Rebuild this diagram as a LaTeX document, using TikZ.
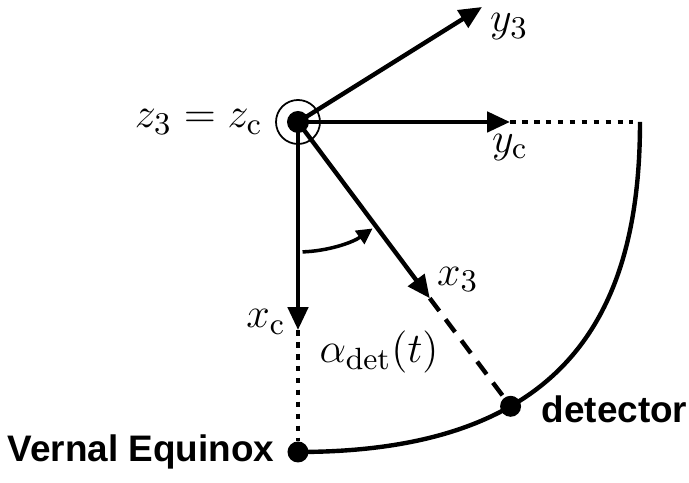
\documentclass[tikz,border=0pt]{standalone}
\usepackage{fontspec}
\setsansfont{Liberation Sans}
\usetikzlibrary{positioning, arrows.meta, calc}

\begin{document}
\begin{tikzpicture}[
  axis/.style={-{Triangle[length=6.5pt, width=5.7pt]}, line width=1.25pt},
  guide/.style={line width=1.25pt, dash pattern=on 1.6pt off 1.8pt},
  ray/.style={line width=1.25pt, dash pattern=on 4.5pt off 3pt},
  point/.style={circle, fill, inner sep=0pt, minimum size=0.21cm},
  lab/.style={font=\fontsize{12.5}{14}\selectfont},
  place/.style={font=\fontsize{10.5}{12}\selectfont\sffamily\bfseries}
]
\useasboundingbox (0,0) rectangle (6.89,4.83);
\node[point, minimum size=0.22cm] (orig) at (2.98,3.61) {};
\node[circle, draw, line width=0.5pt, minimum size=0.44cm, inner sep=0pt] (ring) at (orig) {};
\coordinate (yc) at (5.10,3.61);
\coordinate (ytop) at (4.82,4.76);
\coordinate (xc) at (2.98,1.53);
\coordinate (rim) at (6.40,3.61);
\node[point] (equinox) at (2.98,0.31) {};

\draw[line width=1.25pt] (rim) .. controls (6.40,1.63) and (5.60,0.31) .. (equinox.center)
  node[point, pos=0.65] (det) {};
\coordinate (x3) at ($(orig)!0.62!(det)$);

\draw[axis] (orig.center) -- (yc);
\draw[axis] (orig.center) -- (ytop);
\draw[axis] (orig.center) -- (xc);
\draw[axis] (orig.center) -- (x3);
\draw[guide, shorten >=0.07cm] (yc) -- (rim);
\draw[guide] (xc) -- (equinox);
\draw[ray] (x3) -- (det.center);
\draw[-{Triangle[length=4.5pt, width=4.5pt]}, line width=1pt]
  ($(orig)+(-88:1.3)$) arc[start angle=-88, end angle=-55, radius=1.3];

\node[lab, left=0pt of ring] (zlab) {$z_3 = z_{\mathrm{c}}$};
\node[lab, inner sep=1pt, right=0.04cm of ytop, yshift=-0.2cm] (ylab) {$y_3$};
\node[lab, below=0pt of yc] (yclab) {$y_{\mathrm{c}}$};
\node[lab, left=0pt of xc, yshift=0.08cm] (xclab) {$x_{\mathrm{c}}$};
\node[lab, above right=0pt of x3, xshift=-0.05cm, yshift=-0.06cm] (xlab) {$x_3$};
\node[lab] (alpha) at (3.79,1.31) {$\alpha_{\mathrm{det}}(t)$};
\node[place, left=0pt of equinox] (eqlab) {Vernal Equinox};
\node[place, right=0.06cm of det, yshift=-0.03cm] (detlab) {detector};
\end{tikzpicture}
\end{document}
